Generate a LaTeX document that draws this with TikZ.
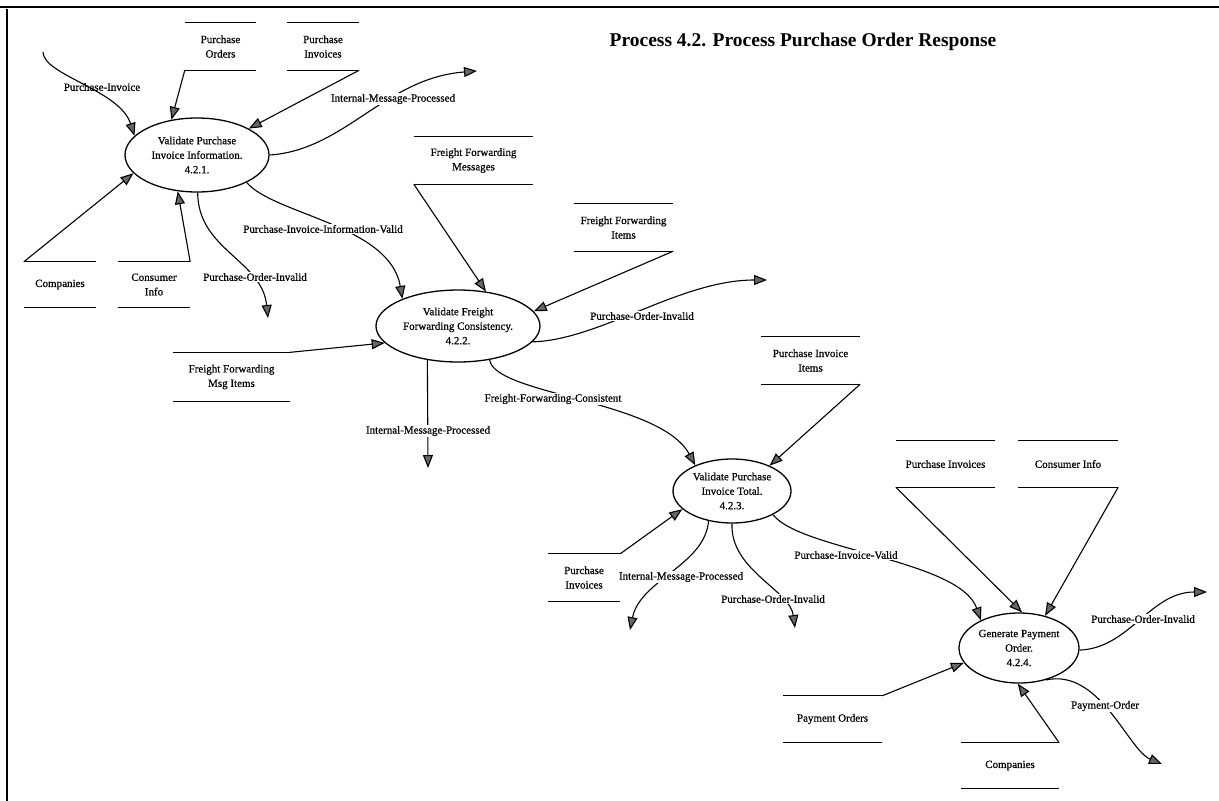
\documentclass[tikz,border=0pt]{standalone}
\usepackage{fontspec}
\setmainfont{Liberation Serif}
% slightly heavier face for the diagram texts
\newfontface\dfdfont{Liberation Serif}[FakeBold=0.6]
\usetikzlibrary{arrows.meta,shapes.geometric}
\begin{document}
\begin{tikzpicture}[x=1pt,y=-1pt,
  txt/.style={font=\dfdfont\fontsize{11}{14.5}\selectfont},
  proc/.style={txt,ellipse,draw,line width=1.3pt,inner sep=0pt,align=center},
  store/.style={txt,inner sep=0pt,align=center},
  storeline/.style={line width=1.2pt},
  flow/.style={line width=1.1pt,-{Triangle[length=13pt,width=10pt,fill=black!60]}},
  lbl/.style={txt,fill=white,inner sep=1pt},
  lblclear/.style={txt,inner sep=1pt},
]
\useasboundingbox (0,0) rectangle (1219,801);

% page frame
\draw[line width=2pt] (0,7) -- (1219,7);
\draw[line width=1.5pt] (7,9) -- (7,801);

% title
\node[font=\fontsize{19.5}{22}\selectfont\bfseries] (title) at (803,42) {Process 4.2. Process Purchase Order Response};

% processes
\node[proc,minimum width=144pt,minimum height=74pt] (p1) at (197,155) {Validate Purchase\\Invoice Information.\\4.2.1.};
\node[proc,minimum width=164pt,minimum height=72pt] (p2) at (458,326) {Validate Freight\\Forwarding Consistency.\\4.2.2.};
\node[proc,minimum width=118pt,minimum height=64pt] (p3) at (732,491) {Validate Purchase\\Invoice Total.\\4.2.3.};
\node[proc,minimum width=120pt,minimum height=70pt] (p4) at (1019,648) {Generate Payment\\Order.\\4.2.4.};

% data stores
\node[store,minimum width=71pt,minimum height=47pt]  (sOrd)  at (220.5,46.5) {Purchase\\Orders};
\node[store,minimum width=72pt,minimum height=47pt]  (sInvA) at (323,46.5)   {Purchase\\Invoices};
\node[store,minimum width=72pt,minimum height=45pt]  (sCoA)  at (60,284.5)   {Companies};
\node[store,minimum width=72pt,minimum height=45pt]  (sCiA)  at (154,284.5)  {Consumer\\Info};
\node[store,minimum width=119pt,minimum height=47pt] (sFfm)  at (473.5,160.5) {Freight Forwarding\\Messages};
\node[store,minimum width=99pt,minimum height=47pt]  (sFfi)  at (623.5,227.5) {Freight Forwarding\\Items};
\node[store,minimum width=117pt,minimum height=49pt] (sFfmi) at (231.5,377)  {Freight Forwarding\\Msg Items};
\node[store,minimum width=99pt,minimum height=47pt]  (sPii)  at (810.5,360.5) {Purchase Invoice\\Items};
\node[store,minimum width=72pt,minimum height=47pt]  (sInvB) at (584,577.5)  {Purchase\\Invoices};
\node[store,minimum width=99pt,minimum height=46pt]  (sInvC) at (945.5,464)  {Purchase Invoices};
\node[store,minimum width=100pt,minimum height=46pt] (sCiB)  at (1068,464)   {Consumer Info};
\node[store,minimum width=99pt,minimum height=46pt]  (sPay)  at (832.5,719)  {Payment Orders};
\node[store,minimum width=98pt,minimum height=45pt]  (sCoB)  at (1010,765.5) {Companies};

\foreach \s in {sOrd,sInvA,sCoA,sCiA,sFfm,sFfi,sFfmi,sPii,sInvB,sInvC,sCiB,sPay,sCoB}
  \draw[storeline] (\s.north west) -- (\s.north east) (\s.south west) -- (\s.south east);

% free ends of the flows
\coordinate (inPI)    at (43,52);
\coordinate (outImp1) at (477,71);
\coordinate (outPoi1) at (268,318);
\coordinate (outPoi2) at (767,280);
\coordinate (outImp2) at (428,468);
\coordinate (outImp3) at (630,630);
\coordinate (outPoi3) at (795,628);
\coordinate (outPoi4) at (1207,592);
\coordinate (outPay)  at (1162,764);

% flows of 4.2.1
\draw[flow] (sOrd.south west) -- (p1.126);
\draw[flow] (sInvA.south east) -- (p1.27);
\draw[flow] (sCoA.north west) -- (p1.196);
\draw[flow] (sCiA.north east) -- (p1.242);
\draw[flow] (inPI) .. controls (43,75) and (120,90) .. (p1.163);
\draw[flow] (p1.east) .. controls (345,150) and (385,78) .. (outImp1);
\draw[flow] (p1.271) .. controls (198,250) and (262,260) .. (outPoi1);
\draw[flow] (p1.331) .. controls (275,215) and (390,225) .. (p2.154);

% flows of 4.2.2
\draw[flow] (sFfm.south west) -- (p2.51);
\draw[flow] (sFfi.south east) -- (p2.11);
\draw[flow] (sFfmi.north east) -- (p2.193);
\draw[flow] (p2.348) .. controls (600,340) and (680,280) .. (outPoi2);
\draw[flow] (p2.228) -- (outImp2);
\draw[flow] (p2.313) .. controls (495,395) and (660,400) .. (p3.145);

% flows of 4.2.3
\draw[flow] (sPii.south east) -- (p3.34);
\draw[flow] (sInvB.north east) -- (p3.200);
\draw[flow] (p3.232) .. controls (705,565) and (640,580) .. (outImp3);
\draw[flow] (p3.270) .. controls (730,570) and (790,590) .. (outPoi3);
\draw[flow] (p3.330) .. controls (800,550) and (960,560) .. (p4.144);

% flows of 4.2.4
\draw[flow] (sInvC.south west) -- (p4.85);
\draw[flow] (sCiB.south east) -- (p4.51);
\draw[flow] (sPay.north east) -- (p4.195);
\draw[flow] (sCoB.north east) -- (p4.268);
\draw[flow] (p4.358) .. controls (1130,648) and (1150,592) .. (outPoi4);
\draw[flow] (p4.310) .. controls (1100,668) and (1128,750) .. (outPay);

% flow labels
\node[lblclear] (lPI)   at (102,87)  {Purchase-Invoice};
\node[lbl] (lImp1) at (393,99)  {Internal-Message-Processed};
\node[lbl] (lPiiv) at (323,229) {Purchase-Invoice-Information-Valid};
\node[lbl] (lPoi1) at (255,277) {Purchase-Order-Invalid};
\node[lbl] (lPoi2) at (642,316) {Purchase-Order-Invalid};
\node[lbl] (lImp2) at (428,431) {Internal-Message-Processed};
\node[lbl] (lFfc)  at (553,399) {Freight-Forwarding-Consistent};
\node[lbl] (lImp3) at (681,577) {Internal-Message-Processed};
\node[lbl] (lPoi3) at (773,599) {Purchase-Order-Invalid};
\node[lbl] (lPiv)  at (846,555) {Purchase-Invoice-Valid};
\node[lbl] (lPoi4) at (1143,619) {Purchase-Order-Invalid};
\node[lbl] (lPay)  at (1105,706) {Payment-Order};
\end{tikzpicture}
\end{document}
